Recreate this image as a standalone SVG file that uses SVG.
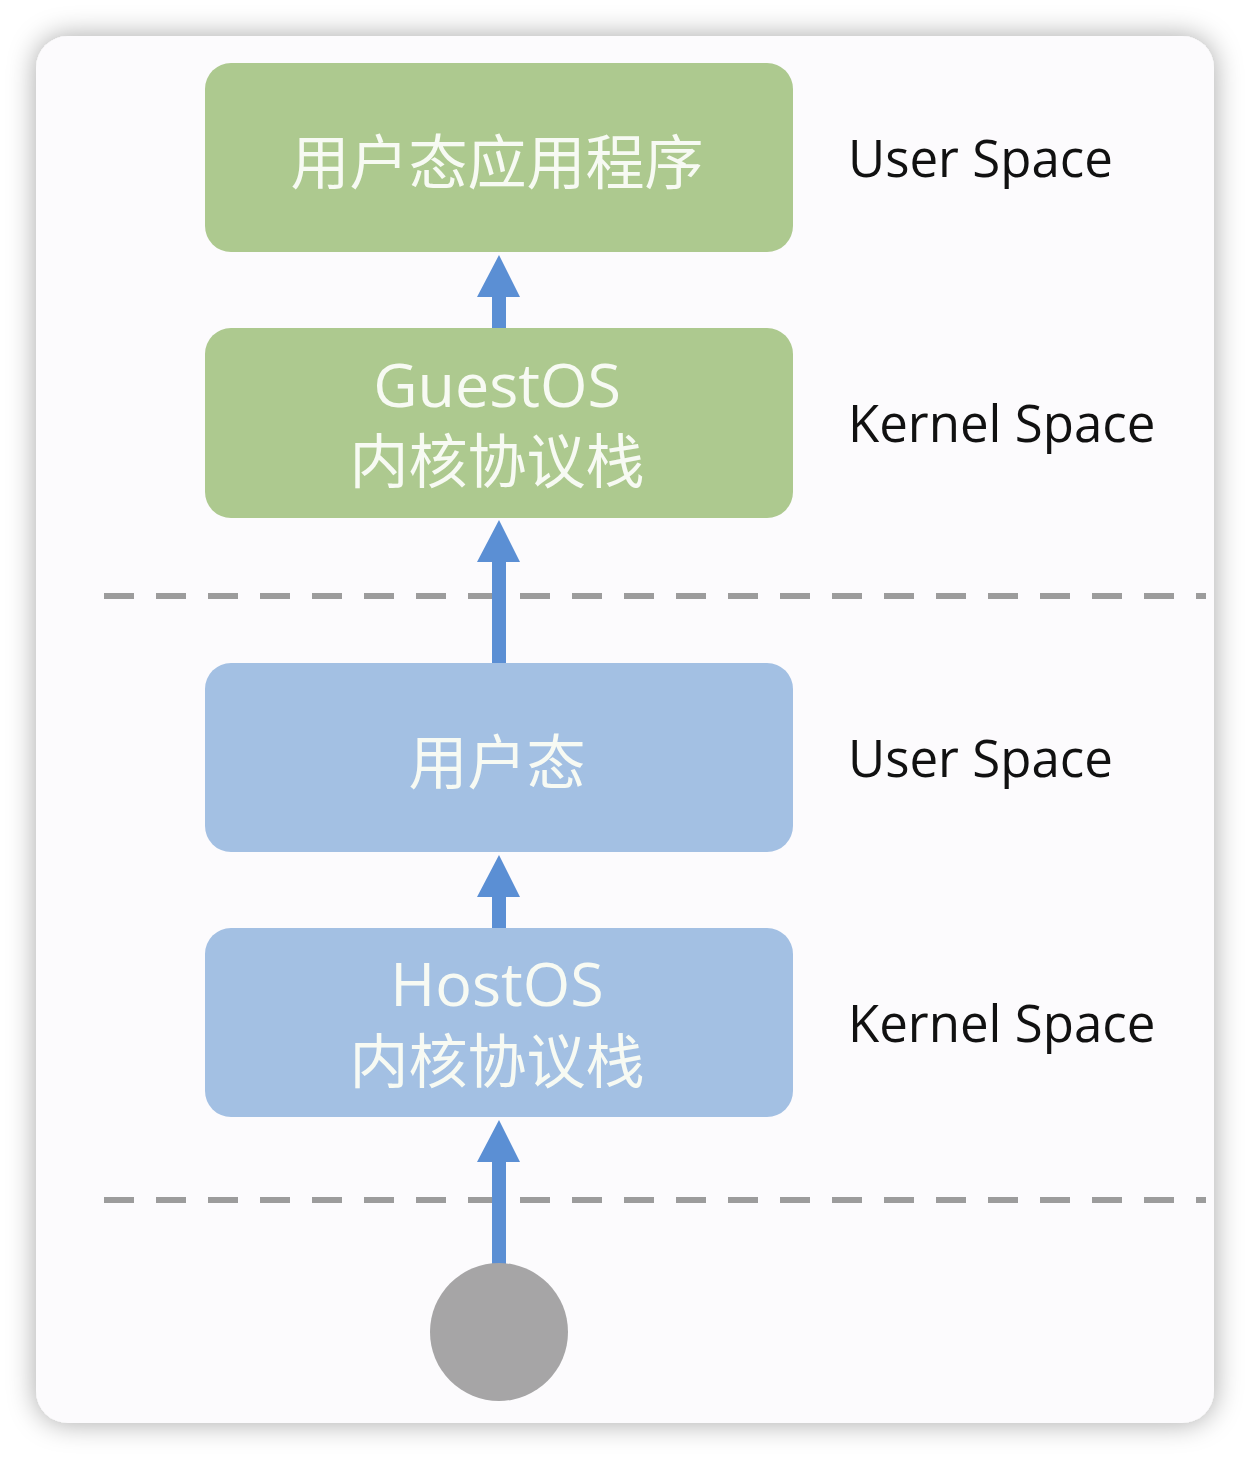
<svg xmlns="http://www.w3.org/2000/svg" width="1250" height="1460" viewBox="0 0 1250 1460">
  <defs>
    <filter id="shadow" x="-10%" y="-10%" width="120%" height="120%">
      <feDropShadow dx="0" dy="0" stdDeviation="14" flood-color="#000000" flood-opacity="0.35"/>
    </filter>
  </defs>
  <style>
    .green { fill: #adc98f; }
    .blue { fill: #a3c0e3; }
    .boxtxt { fill: #f7faf3; font-family: "Noto Sans CJK SC", "Open Sans", sans-serif; font-size: 59px; text-anchor: middle; }
    .cjk2 { font-family: "Open Sans", "Noto Sans CJK SC", sans-serif; font-size: 59px; }
    .latin { font-family: "Open Sans", "Noto Sans", sans-serif; font-size: 61px; }
    .label { fill: #111111; font-family: "Open Sans", "Noto Sans", sans-serif; font-size: 51px; }
    .dash { stroke: #9c9c9c; stroke-width: 6; stroke-dasharray: 30 22; fill: none; }
    .arrow { fill: #5b8fd4; }
  </style>
  <rect x="0" y="0" width="1250" height="1460" fill="#ffffff"/>
  <rect x="36" y="36" width="1178" height="1387" rx="32" ry="32" fill="#fcfbfd" filter="url(#shadow)"/>

  <g id="separators">
    <line class="dash" x1="104" y1="596" x2="1206" y2="596"/>
    <line class="dash" x1="104" y1="1200" x2="1206" y2="1200"/>
  </g>

  <g id="connectors">
    <path class="arrow" d="M492,328 L492,297 L477,297 L499,255 L520,297 L506,297 L506,328 Z"/>
    <path class="arrow" d="M492,663 L492,562 L477,562 L499,520 L520,562 L506,562 L506,663 Z"/>
    <path class="arrow" d="M492,928 L492,897 L477,897 L499,855 L520,897 L506,897 L506,928 Z"/>
    <path class="arrow" d="M492,1264 L492,1162 L477,1162 L499,1120 L520,1162 L506,1162 L506,1264 Z"/>
  </g>

  <g id="guest-user-app">
    <rect class="green" x="205" y="63" width="588" height="189" rx="26" ry="26"/>
    <text class="boxtxt" x="497" y="184">用户态应用程序</text>
  </g>
  <g id="guest-kernel">
    <rect class="green" x="205" y="328" width="588" height="190" rx="26" ry="26"/>
    <text class="boxtxt latin" x="497" y="407">GuestOS</text>
    <text class="boxtxt cjk2" x="497" y="483">内核协议栈</text>
  </g>
  <g id="host-user">
    <rect class="blue" x="205" y="663" width="588" height="189" rx="26" ry="26"/>
    <text class="boxtxt" x="497" y="784">用户态</text>
  </g>
  <g id="host-kernel">
    <rect class="blue" x="205" y="928" width="588" height="189" rx="26" ry="26"/>
    <text class="boxtxt latin" x="497" y="1006">HostOS</text>
    <text class="boxtxt cjk2" x="497" y="1083">内核协议栈</text>
  </g>
  <g id="source">
    <circle cx="499" cy="1332" r="69" fill="#a6a5a6"/>
  </g>

  <g id="labels">
    <text class="label" x="848" y="177">User Space</text>
    <text class="label" x="848" y="442">Kernel Space</text>
    <text class="label" x="848" y="777">User Space</text>
    <text class="label" x="848" y="1042">Kernel Space</text>
  </g>
</svg>
